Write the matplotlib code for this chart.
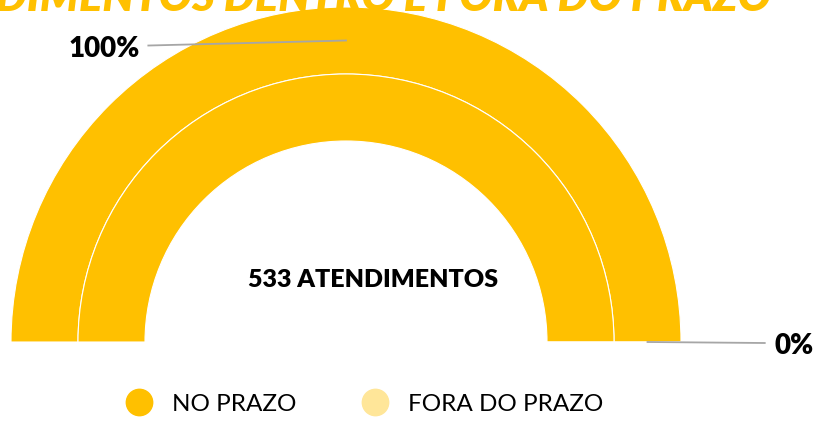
import matplotlib
matplotlib.use("Agg")
import matplotlib.pyplot as plt
from matplotlib.lines import Line2D
import numpy as np

# Dados do gráfico
categorias = ["NO PRAZO", "FORA DO PRAZO"]
valores = [533, 0]
cores = ["#FFC000", "#FFE699"]
titulo = "ATENDIMENTOS DENTRO E FORA DO PRAZO"

plt.rcParams["font.family"] = ["Lato", "DejaVu Sans"]

W, H = 816, 421
fig = plt.figure(figsize=(W / 100, H / 100), dpi=100)

# meia rosca: centro e raio em pixels
cx, cy, R = 346, 421 - 342, 335
ax = fig.add_axes([(cx - R) / W, (cy - R) / H, 2 * R / W, 2 * R / H])

total = sum(valores)
dados = valores + [total]  # metade inferior invisível
cores_aneis = cores + ["none"]

for raio in (1.0, 0.8):
    wedges, _ = ax.pie(dados, radius=raio, colors=cores_aneis, startangle=180,
                       counterclock=False,
                       wedgeprops=dict(width=0.2, edgecolor="white", linewidth=0.8))
    wedges[-1].set_visible(False)
    if raio == 1.0:
        aneis_ext = wedges

ax.set_xlim(-1, 1)
ax.set_ylim(-1, 1)
ax.set_aspect("equal")
ax.axis("off")

# Rótulos de porcentagem com linhas guia
pos_rotulos = [(-0.59, 0.885), (1.25, -0.003)]
for w, v, (tx, ty) in zip(aneis_ext[:2], valores, pos_rotulos):
    ang = np.deg2rad((w.theta1 + w.theta2) / 2)
    px, py = 0.9 * np.cos(ang), 0.9 * np.sin(ang)
    ax.plot([px, tx], [py, ty], color="#A6A6A6", lw=1.3, clip_on=False)
    pct = f"{v / total * 100:.0f}%"
    if tx < 0:
        ax.text(tx - 0.025, ty - 0.01, pct, ha="right", va="center", fontsize=20,
                fontweight="heavy", clip_on=False)
    else:
        ax.text(tx + 0.03, ty - 0.01, pct, ha="left", va="center", fontsize=20,
                fontweight="heavy", clip_on=False)

ax.text(0.08, 0.185, f"{total} ATENDIMENTOS", ha="center", va="center",
        fontsize=18, fontweight="heavy")

# Título (cortado no topo, como no original)
fig.text(771 / W, 1 - 11 / H, titulo, ha="right", va="baseline", fontsize=31.5,
         fontweight="heavy", fontstyle="italic", color="#FFC000")

# Legenda
handles = [Line2D([], [], marker="o", ls="", markersize=19, markerfacecolor=c,
                  markeredgecolor=c) for c in cores]
fig.legend(handles, categorias, loc="center", bbox_to_anchor=(359 / W, 1 - 404 / H),
           ncol=2, frameon=False, fontsize=17.5, handletextpad=0.35, columnspacing=2.25)

fig.savefig("out.png", dpi=100)
